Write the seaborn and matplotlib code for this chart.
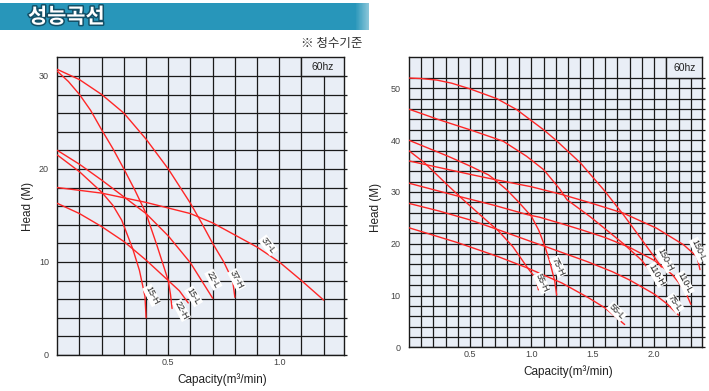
import numpy as np
import pandas as pd
import matplotlib
matplotlib.use("Agg")
import matplotlib.pyplot as plt
from matplotlib.patches import Rectangle
import matplotlib.patheffects as pe
import seaborn as sns

# ---- left chart: capacity (m3/min) vs head (m) ----
q_15h = [0, 0.1, 0.2, 0.25, 0.29, 0.34, 0.37, 0.395, 0.40]
h_15h = [21.5, 19.7, 17.5, 16.1, 14.5, 11.4, 9.1, 6.3, 4.0]
q_22h = [0, 0.05, 0.1, 0.15, 0.2, 0.25, 0.3, 0.35, 0.4, 0.45, 0.5, 0.51, 0.517]
h_22h = [30.5, 29.4, 28.0, 26.3, 24.2, 22.2, 20.0, 17.7, 15.2, 11.7, 8.0, 6.5, 5.0]
q_15l = [0, 0.1, 0.2, 0.3, 0.34, 0.4, 0.5, 0.55, 0.59]
h_15l = [16.3, 15.2, 13.8, 12.2, 11.4, 10.2, 8.0, 6.9, 5.6]
q_22l = [0, 0.1, 0.2, 0.3, 0.4, 0.5, 0.6, 0.65, 0.7]
h_22l = [22.0, 20.5, 18.8, 17.0, 15.2, 12.8, 9.9, 8.0, 6.1]
q_37h = [0, 0.1, 0.2, 0.3, 0.4, 0.5, 0.6, 0.65, 0.7, 0.75, 0.79, 0.80]
h_37h = [30.7, 29.6, 28.0, 26.0, 23.2, 20.0, 16.3, 14.2, 12.0, 10.0, 8.0, 6.2]
q_37l = [0, 0.2, 0.4, 0.6, 0.7, 0.8, 0.9, 1.0, 1.1, 1.2]
h_37l = [18.0, 17.4, 16.4, 15.2, 14.2, 12.9, 11.6, 10.0, 8.0, 5.9]

# ---- right chart ----
q_150h = [0, 0.1, 0.23, 0.35, 0.5, 0.72, 0.88, 1.1, 1.2, 1.4, 1.59, 1.75, 1.89, 2.0, 2.06]
h_150h = [52.0, 51.9, 51.6, 51.0, 49.9, 48.0, 45.9, 42.0, 40.0, 35.6, 30.4, 25.6, 21.1, 17.5, 15.5]
q_110h = [0, 0.24, 0.5, 0.77, 0.96, 1.1, 1.23, 1.29, 1.48, 1.61, 1.75, 1.9, 2.01]
h_110h = [46.0, 44.0, 42.0, 39.8, 36.9, 34.3, 30.6, 28.5, 25.2, 22.7, 20.0, 16.8, 13.3]
q_150l = [0, 0.5, 0.7, 1.0, 1.25, 1.48, 1.75, 2.02, 2.24, 2.35, 2.374]
h_150l = [36.0, 33.4, 32.4, 31.0, 29.5, 27.9, 25.9, 23.0, 19.8, 17.5, 15.0]
q_110l = [0, 0.4, 0.7, 0.97, 1.07, 1.27, 1.42, 1.6, 1.8, 2.0, 2.15, 2.25, 2.3]
h_110l = [31.7, 29.2, 27.4, 25.6, 25.1, 23.7, 22.6, 21.2, 19.3, 16.8, 14.0, 11.0, 8.3]
q_75l = [0, 0.25, 0.5, 0.73, 1.0, 1.11, 1.25, 1.46, 1.66, 1.8, 2.0, 2.1, 2.2]
h_75l = [27.8, 26.3, 24.6, 22.7, 20.4, 19.5, 18.3, 16.5, 14.6, 13.0, 10.3, 8.5, 6.2]
q_55l = [0, 0.4, 0.73, 0.97, 1.25, 1.47, 1.6, 1.76]
h_55l = [23.1, 20.2, 17.5, 15.3, 12.4, 9.5, 7.6, 4.4]
q_75h = [0, 0.32, 0.5, 0.65, 0.7, 0.8, 0.89, 1.0, 1.06, 1.11, 1.15, 1.19, 1.206]
h_75h = [40.0, 36.9, 35.0, 33.3, 32.4, 30.4, 28.2, 25.3, 22.6, 19.5, 16.5, 12.8, 10.1]
q_55h = [0, 0.13, 0.3, 0.43, 0.6, 0.73, 0.85, 0.97, 1.03, 1.05, 1.057]
h_55h = [38.0, 35.6, 31.7, 28.8, 25.2, 22.5, 19.4, 15.3, 13.5, 12.0, 11.1]

left_curves = {"15-H": (q_15h, h_15h), "22-H": (q_22h, h_22h),
               "15-L": (q_15l, h_15l), "22-L": (q_22l, h_22l),
               "37-H": (q_37h, h_37h), "37-L": (q_37l, h_37l)}
right_curves = {"150-H": (q_150h, h_150h), "110-H": (q_110h, h_110h),
                "150-L": (q_150l, h_150l), "110-L": (q_110l, h_110l),
                "75-L": (q_75l, h_75l), "55-L": (q_55l, h_55l),
                "75-H": (q_75h, h_75h), "55-H": (q_55h, h_55h)}

BG = "#e9eef6"
RED = "#ff2626"
GRID = "#1a1a1a"


def to_frame(curves):
    rows = []
    for name, (q, h) in curves.items():
        for a, b in zip(q, h):
            rows.append((name, a, b))
    return pd.DataFrame(rows, columns=["model", "q", "head"])


def draw_chart(ax, curves, xmax, ymax, xmajor, ymajor, xminor, yminor,
               box, labels):
    df = to_frame(curves)
    sns.lineplot(data=df, x="q", y="head", hue="model",
                 palette={m: RED for m in curves}, estimator=None,
                 legend=False, lw=1.0, ax=ax, zorder=3)
    ax.set_facecolor(BG)
    ax.set_xlim(0, xmax)
    ax.set_ylim(0, ymax)
    ax.set_xticks(xmajor)
    ax.set_xticklabels([f"{v:.1f}" for v in xmajor])
    ax.set_yticks(ymajor)
    ax.set_xticks(xminor, minor=True)
    ax.set_yticks(yminor, minor=True)
    ax.grid(which="both", color=GRID, lw=0.9)
    ax.set_axisbelow(True)
    ax.set_xlabel("")
    ax.set_ylabel("")
    for s in ax.spines.values():
        s.set_color(GRID)
        s.set_linewidth(1.0)
    ax.tick_params(axis="x", which="both", bottom=False, length=0,
                   labelsize=6.5, labelcolor="#444444", pad=2)
    ax.tick_params(axis="y", which="both", left=False, right=True,
                   length=2, width=0.9, color=GRID, labelsize=6.5,
                   labelcolor="#444444", pad=4)
    # 60hz box
    x0, y0 = box
    ax.add_patch(Rectangle((x0, y0), xmax - x0 + 0.05, ymax - y0 + 1,
                           facecolor=BG, edgecolor=GRID, lw=1.0,
                           zorder=2, clip_on=True))
    ax.text((x0 + xmax) / 2, (y0 + ymax) / 2, "60hz", fontsize=7.5,
            ha="center", va="center", color="#222222", zorder=4)
    for name, (lx, ly, rot) in labels.items():
        ax.text(lx, ly, name, fontsize=6.5, rotation=rot, ha="center",
                va="center", color="#222222", zorder=5,
                bbox=dict(boxstyle="square,pad=0.08", fc="white", ec="none"))


sns.set_theme(style="white")
plt.rcParams["font.family"] = ["Liberation Sans", "Noto Sans CJK KR"]

fig = plt.figure(figsize=(7.09, 3.91), dpi=100)
fig.patch.set_facecolor("white")

# banner
bax = fig.add_axes([0, 1 - 30.5 / 391, 369 / 709, 28 / 391])
base = np.array([0.16, 0.59, 0.73])
ramp = np.ones(256)
ramp[-10:] = np.linspace(1, 0.55, 10)
img = np.zeros((1, 256, 3))
for i in range(256):
    img[0, i] = base * ramp[i] + (1 - ramp[i]) * np.array([1, 1, 1])
bax.imshow(img, aspect="auto", extent=(0, 1, 0, 1))
bax.axis("off")
fig.text(28 / 709, 1 - 16.5 / 391, "성능곡선", family=["Noto Sans CJK KR"],
         fontsize=15, fontweight="bold", color="white", va="center",
         ha="left", path_effects=[pe.withStroke(linewidth=2.2,
                                                foreground="#134f66")])
fig.text(362 / 709, 1 - 43.5 / 391, "※ 청수기준", family=["Noto Sans CJK KR"],
         fontsize=9, color="#333333", va="center", ha="right")

ax1 = fig.add_axes([57.3 / 709, 36 / 391, 287 / 709, 297.7 / 391])
draw_chart(ax1, left_curves, 1.293, 32, [0.5, 1.0], [0, 10, 20, 30],
           np.round(np.arange(0.1, 1.25, 0.1), 2), np.arange(2, 31, 2),
           (1.1, 30),
           {"15-H": (0.425, 6.4, -62), "22-H": (0.56, 4.8, -62),
            "15-L": (0.614, 6.3, -58), "22-L": (0.703, 8.1, -62),
            "37-H": (0.808, 8.1, -62), "37-L": (0.95, 11.8, -52)})

ax2 = fig.add_axes([408.7 / 709, 43.7 / 391, 293.6 / 709, 290 / 391])
draw_chart(ax2, right_curves, 2.393, 56, [0.5, 1.0, 1.5, 2.0],
           [0, 10, 20, 30, 40, 50],
           np.round(np.arange(0.1, 2.35, 0.1), 2), np.arange(2, 53, 2),
           (2.1, 52),
           {"150-L": (2.36, 18.8, -65), "150-H": (2.09, 16.9, -62),
            "110-H": (2.02, 14.0, -60), "110-L": (2.25, 12.4, -62),
            "75-L": (2.17, 8.5, -55), "55-L": (1.695, 6.9, -45),
            "75-H": (1.22, 15.6, -65), "55-H": (1.084, 12.4, -65)})

fig.text(27.5 / 709, 1 - 206 / 391, "Head (M)", rotation=90, fontsize=8.5,
         ha="center", va="center", color="#222222")
fig.text(376 / 709, 1 - 207 / 391, "Head (M)", rotation=90, fontsize=8.5,
         ha="center", va="center", color="#222222")
fig.text(222 / 709, 1 - 380 / 391, "Capacity(m³/min)", fontsize=8.5,
         ha="center", va="center", color="#222222")
fig.text(568 / 709, 1 - 372 / 391, "Capacity(m³/min)", fontsize=8.5,
         ha="center", va="center", color="#222222")

fig.savefig("out.png", dpi=100)
plt.close(fig)
